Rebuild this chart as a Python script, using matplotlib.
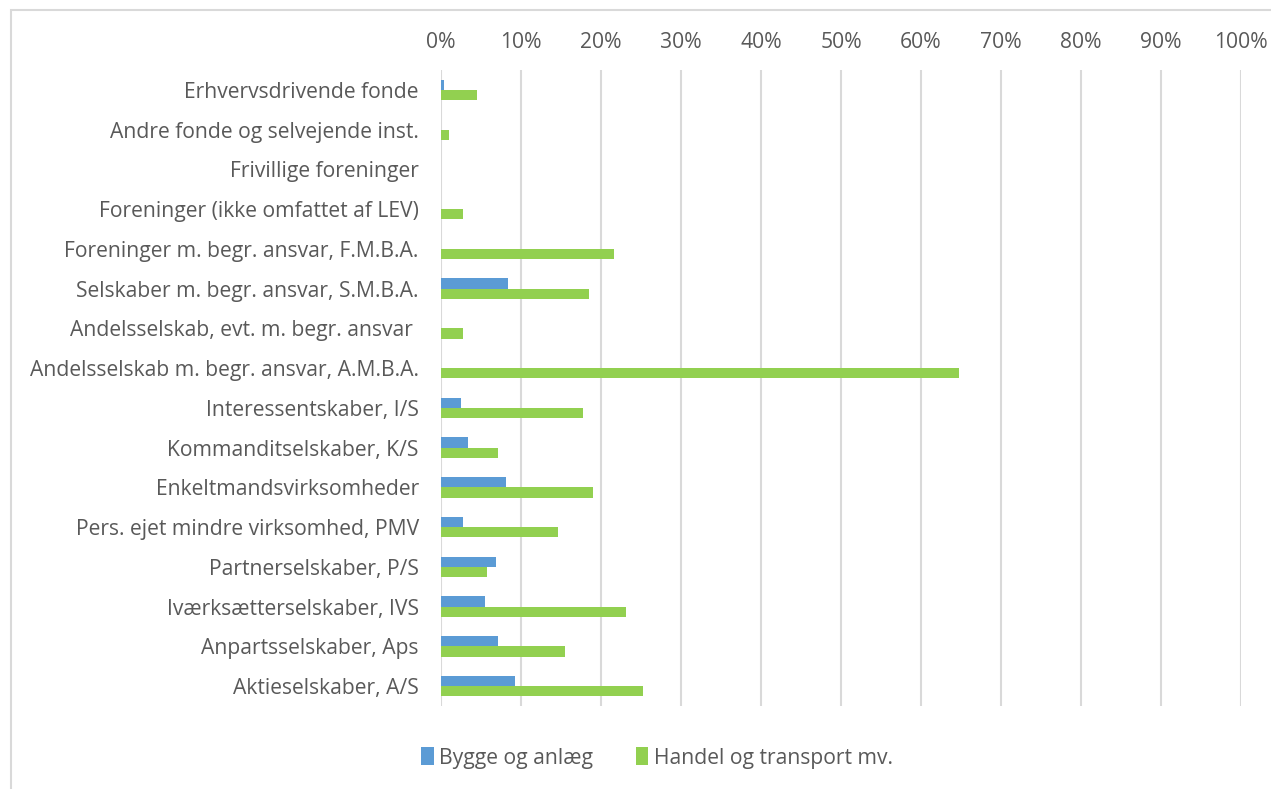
import numpy as np
import matplotlib
matplotlib.use("Agg")
import matplotlib.pyplot as plt
from matplotlib.patches import Rectangle

# Virksomhedsformer, top til bund
categories = [
    "Erhvervsdrivende fonde",
    "Andre fonde og selvejende inst.",
    "Frivillige foreninger",
    "Foreninger (ikke omfattet af LEV)",
    "Foreninger m. begr. ansvar, F.M.B.A.",
    "Selskaber m. begr. ansvar, S.M.B.A.",
    "Andelsselskab, evt. m. begr. ansvar ",
    "Andelsselskab m. begr. ansvar, A.M.B.A.",
    "Interessentskaber, I/S",
    "Kommanditselskaber, K/S",
    "Enkeltmandsvirksomheder",
    "Pers. ejet mindre virksomhed, PMV",
    "Partnerselskaber, P/S",
    "Iværksætterselskaber, IVS",
    "Anpartsselskaber, Aps",
    "Aktieselskaber, A/S",
]
bygge = [0.35, 0, 0, 0, 0, 8.4, 0, 0, 2.5, 3.4, 8.15, 2.8, 6.85, 5.5, 7.1, 9.3]
handel = [4.5, 1.0, 0, 2.8, 21.6, 18.5, 2.8, 64.7, 17.8, 7.1, 19.0, 14.6, 5.7, 23.1, 15.5, 25.2]
series_names = ["Bygge og anlæg", "Handel og transport mv."]
colors = ["#5B9BD5", "#92D050"]
xticks = np.arange(0, 101, 10)

plt.rcParams["font.family"] = ["Open Sans", "DejaVu Sans"]
text_col = "#595959"
grid_col = "#D9D9D9"
fs = 15.2

fig = plt.figure(figsize=(12.71, 7.89), dpi=100)
ax = fig.add_axes([441 / 1271, 1 - 706 / 789, 800 / 1271, 636 / 789])

# ramme omkring diagramområdet
fig.patches.append(Rectangle((11 / 1271, -0.1), 1.2, 1 - 10 / 789 + 0.1,
                             transform=fig.transFigure, fill=False,
                             edgecolor=grid_col, linewidth=1.5, zorder=0))

y = np.arange(len(categories))
h = 0.26
ax.barh(y - h / 2, bygge, height=h, color=colors[0], label=series_names[0], zorder=3)
ax.barh(y + h / 2, handel, height=h, color=colors[1], label=series_names[1], zorder=3)

ax.set_ylim(len(categories) - 0.5, -0.5)
ax.set_xlim(0, 100)
ax.set_xticks(xticks)
ax.set_xticklabels([f"{t}%" for t in xticks])
ax.xaxis.tick_top()
ax.tick_params(axis="x", length=0, pad=12, labelsize=fs, labelcolor=text_col)
ax.set_yticks(y)
ax.set_yticklabels(categories)
ax.tick_params(axis="y", length=0, pad=16, labelsize=fs, labelcolor=text_col)
ax.grid(axis="x", color=grid_col, linewidth=1.5, zorder=0)
for s in ax.spines.values():
    s.set_visible(False)

fig.legend(loc="center", bbox_to_anchor=(657 / 1271, 1 - 758 / 789), ncol=2,
           frameon=False, fontsize=fs, labelcolor=text_col,
           handlelength=0.6, handleheight=0.9, handletextpad=0.25,
           columnspacing=2.0)

fig.savefig("out.png", dpi=100)
